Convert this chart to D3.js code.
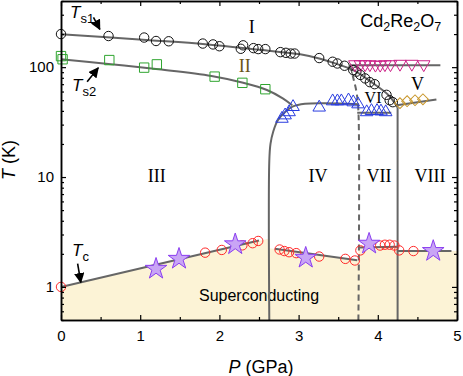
<!DOCTYPE html>
<html>
<head>
<meta charset="utf-8">
<script src="https://cdn.jsdelivr.net/npm/d3@7"></script>
<style>
body { margin: 0; background: #fff; }
svg { display: block; font-family: "Liberation Sans", Arial, sans-serif; }
</style>
</head>
<body>
<svg id="chart" width="463" height="376"></svg>
<script>
// ---- Data (P in GPa, T in K) ----
var xTicks = [0, 1, 2, 3, 4, 5];
var xMinorTicks = [0.5, 1.5, 2.5, 3.5, 4.5];
var yTicks = [1, 10, 100];
var yMinorTicks = [0.5, 0.6, 0.7, 0.8, 0.9, 2, 3, 4, 5, 6, 7, 8, 9, 20, 30, 40, 50, 60, 70, 80, 90, 200, 300, 400];

// Ts1 (black circles)
var ts1Points = [[0, 200], [0.6, 192], [1.05, 186], [1.2, 173], [1.36, 172], [1.79, 164], [1.92, 161], [2.0, 155],
	[2.27, 147], [2.3, 158], [2.43, 149], [2.49, 146], [2.58, 146], [2.77, 137], [2.84, 135], [2.9, 133], [2.95, 133],
	[3.26, 121], [3.43, 112], [3.49, 108], [3.58, 103], [3.69, 94], [3.73, 91], [3.78, 85], [3.84, 79], [3.9, 73],
	[3.96, 70], [4.11, 56], [4.15, 50], [4.19, 48]];
// Ts2 (green squares)
var ts2Points = [[0, 126], [0.02, 118], [0.61, 116], [1.05, 99], [1.21, 106], [1.94, 82], [2.29, 72], [2.58, 63]];
// phase IV / VI (blue up triangles)
var blueTriangles = [[2.79, 34], [2.83, 36.5], [2.88, 39], [2.93, 43.5], [3.26, 43], [3.43, 49], [3.49, 49], [3.54, 49],
	[3.63, 50], [3.69, 48], [3.75, 46], [3.86, 39], [3.92, 40], [3.99, 40], [4.04, 39.6], [4.1, 39]];
// phase V top (magenta down triangles)
var magentaTriangles = [[3.71, 106], [3.78, 106], [3.84, 106], [3.9, 106], [3.97, 105], [4.03, 105], [4.09, 106],
	[4.16, 106], [4.28, 107], [4.43, 107], [4.58, 106]];
// phase V bottom (orange diamonds)
var diamonds = [[4.28, 47], [4.37, 49], [4.47, 50], [4.57, 51]];
// Tc (red circles, purple stars)
var tcCircles = [[0, 1.0], [1.82, 2.05], [2.03, 2.17], [2.29, 2.39], [2.42, 2.5], [2.49, 2.62], [2.76, 2.19], [2.82, 2.12],
	[2.88, 2.07], [2.97, 2.03], [3.26, 1.89], [3.59, 1.8], [3.71, 1.74], [3.78, 2.15], [4.03, 2.38], [4.09, 2.42],
	[4.15, 2.42], [4.21, 2.38], [4.27, 2.15], [4.45, 2.12]];
var tcStars = [[1.2, 1.46], [1.49, 1.8], [2.2, 2.44], [3.09, 1.84], [3.89, 2.47], [4.7, 2.12]];

// Guide lines through the data
var ts1Line = [[0, 199], [1.12, 176], [1.82, 162], [2.5, 144], [3.02, 131], [3.26, 120], [3.43, 110], [3.69, 94],
	[3.92, 73], [4.13, 56], [4.25, 43]];
var ts2Line = [[0, 118], [0.6, 107], [1.2, 96], [1.9, 83], [2.3, 72], [2.6, 62], [2.8, 52], [2.92, 45]];
var ivLine = [[2.63, 0.5], [2.63, 14], [2.645, 20], [2.68, 26], [2.74, 33], [2.83, 39], [2.93, 44], [3.08, 46.5],
	[3.33, 47], [3.76, 46]];
var viLine = [[3.74, 38.5], [4.17, 38.5]];
var vTopLine = [[3.65, 104], [4.79, 104]];
var vBottomLine = [[4.24, 45], [4.74, 50.7]];
var viiLine = [[4.25, 43], [4.25, 0.5]];
var dashedLine = [[3.65, 104], [3.69, 80], [3.73, 60], [3.755, 40], [3.755, 0.5]];
var tcLines = [
	[[0, 1.0], [2.5, 2.65]],
	[[2.7, 2.22], [3.74, 1.75]],
	[[3.76, 2.28], [4.25, 2.32]],
	[[4.25, 2.12], [4.93, 2.12]]
];
var scArea = [[0, 1.0], [2.63, 2.76], [2.63, 2.25], [3.755, 1.75], [3.755, 2.28], [4.25, 2.32], [4.25, 2.12], [5, 2.12]];

// Region labels [P, T, text]
var phaseLabels = [[2.41, 204, "I"], [2.32, 90.6, "II"], [1.21, 8.96, "III"], [3.245, 8.96, "IV"], [4.5, 62.6, "V"],
	[3.94, 47, "VI"], [4.015, 8.96, "VII"], [4.66, 8.96, "VIII"]];

// ---- Layout ----
var svg = d3.select("#chart");
var x = d3.scaleLinear().domain([0, 5]).range([61, 457]);
var y = d3.scaleLog().domain([0.5, 400]).range([320, 1]);

var grayLine = "#666";
var line = d3.line().x(function(d) { return x(d[0]); }).y(function(d) { return y(d[1]); });
var smooth = d3.line().x(function(d) { return x(d[0]); }).y(function(d) { return y(d[1]); })
	.curve(d3.curveCatmullRom.alpha(0.5));

// Superconducting area
svg.append("path")
	.attr("d", d3.area().x(function(d) { return x(d[0]); }).y0(y(0.5)).y1(function(d) { return y(d[1]); })(scArea))
	.attr("fill", "#fcf3d6");

svg.append("text").attr("x", x(2.5)).attr("y", y(0.75)).attr("text-anchor", "middle")
	.style("font-size", "16px").text("Superconducting");

// Phase boundary lines
function drawLine(pts, gen, dashed) {
	var p = svg.append("path").attr("d", gen(pts)).attr("fill", "none")
		.attr("stroke", grayLine).attr("stroke-width", 2);
	if (dashed)
		p.attr("stroke-dasharray", "6,4");
	return p;
}
drawLine(ts1Line, smooth);
drawLine(ts2Line, smooth);
drawLine(ivLine, smooth);
drawLine(viLine, line);
drawLine(vTopLine, line);
drawLine(vBottomLine, line);
drawLine(viiLine, line);
drawLine(dashedLine, smooth, true);
tcLines.forEach(function(seg) { drawLine(seg, line); });

// Markers
function drawSymbols(pts, type, size, stroke, fill, rotate) {
	svg.append("g").selectAll("path").data(pts).enter().append("path")
		.attr("d", d3.symbol().type(type).size(size))
		.attr("transform", function(d) {
			return "translate(" + x(d[0]) + "," + y(d[1]) + ")" + (rotate ? " rotate(" + rotate + ")" : "");
		})
		.attr("fill", fill).attr("stroke", stroke).attr("stroke-width", 1);
}
function drawCircles(pts, stroke) {
	svg.append("g").selectAll("circle").data(pts).enter().append("circle")
		.attr("cx", function(d) { return x(d[0]); })
		.attr("cy", function(d) { return y(d[1]); })
		.attr("r", 4.7).attr("fill", "none").attr("stroke", stroke).attr("stroke-width", 1);
}
drawCircles(ts1Points, "#111");
drawSymbols(ts2Points, d3.symbolSquare, 88, "#2fa52f", "none");
drawSymbols(blueTriangles, d3.symbolTriangle, 68, "#2a3de0", "none");
drawSymbols(magentaTriangles, d3.symbolTriangle, 68, "#cc2288", "none", 180);
drawSymbols(diamonds, d3.symbolSquare, 58, "#c8962a", "none", 45);
drawCircles(tcCircles, "#ff2a2a");
drawSymbols(tcStars, d3.symbolStar, 145, "#8a3ef0", "#c9a5f5");

// Region labels
svg.append("g").selectAll("text").data(phaseLabels).enter().append("text")
	.attr("x", function(d) { return x(d[0]); })
	.attr("y", function(d) { return y(d[1]); })
	.attr("text-anchor", "middle")
	.style("font-family", "'Liberation Serif', 'Times New Roman', serif")
	.style("font-size", function(d) { return d[2] == "VI" ? "16px" : "18px"; })
	.style("fill", function(d) { return d[2] == "II" ? "#6a5418" : "#000"; })
	.text(function(d) { return d[2]; });

// Compound name
var cmp = svg.append("text").attr("x", x(4.8)).attr("y", y(233)).attr("text-anchor", "end")
	.style("font-size", "18px");
[["Cd", false], ["2", true], ["Re", false], ["2", true], ["O", false], ["7", true]].forEach(function(p) {
	cmp.append("tspan").text(p[0])
		.attr("dy", p[1] ? 4 : (cmp.selectAll("tspan").size() > 1 ? -4 : 0))
		.style("font-size", p[1] ? "12.5px" : "18px");
});

// T labels with arrows
function tLabel(P, T, sub) {
	var t = svg.append("text").attr("x", x(P)).attr("y", y(T)).style("font-size", "17px");
	t.append("tspan").text("T").style("font-style", "italic");
	t.append("tspan").text(sub).attr("dy", 5).style("font-size", "13px");
}
tLabel(0.114, 280, "s1");
tLabel(0.139, 60.4, "s2");
tLabel(0.139, 1.93, "c");

svg.append("defs").append("marker").attr("id", "head")
	.attr("viewBox", "0 0 10 10").attr("refX", 9).attr("refY", 5)
	.attr("markerWidth", 6.5).attr("markerHeight", 6.5).attr("orient", "auto")
	.append("path").attr("d", "M0,0L10,5L0,10Z").attr("fill", "#000");
function arrow(p1, p2) {
	svg.append("line")
		.attr("x1", x(p1[0])).attr("y1", y(p1[1]))
		.attr("x2", x(p2[0])).attr("y2", y(p2[1]))
		.attr("stroke", "#000").attr("stroke-width", 1.6).attr("marker-end", "url(#head)");
}
arrow([0.41, 284], [0.49, 221]);
arrow([0.33, 73.5], [0.47, 98.5]);
arrow([0.21, 1.63], [0.25, 1.1]);

// ---- Axes (ticks point inward) ----
function styleAxis(g) {
	g.select(".domain").attr("stroke-width", 1.5);
	g.selectAll(".tick line").attr("stroke-width", 1.2);
	g.selectAll("text").style("font-size", "15px").style("font-family", "'Liberation Sans', Arial, sans-serif")
		.attr("fill", "#000");
}
svg.append("g").attr("transform", "translate(0," + y(0.5) + ")")
	.call(d3.axisBottom(x).tickValues(xMinorTicks).tickFormat("").tickSizeInner(-3).tickSizeOuter(0)).call(styleAxis);
svg.append("g").attr("transform", "translate(0," + y(0.5) + ")")
	.call(d3.axisBottom(x).tickValues(xTicks).tickFormat(d3.format("d")).tickSizeInner(-5).tickSizeOuter(0).tickPadding(10))
	.call(styleAxis);
svg.append("g").attr("transform", "translate(0," + y(400) + ")")
	.call(d3.axisTop(x).tickValues(xMinorTicks).tickFormat("").tickSizeInner(-3).tickSizeOuter(0)).call(styleAxis);
svg.append("g").attr("transform", "translate(0," + y(400) + ")")
	.call(d3.axisTop(x).tickValues(xTicks).tickFormat("").tickSizeInner(-5).tickSizeOuter(0)).call(styleAxis);

svg.append("g").attr("transform", "translate(" + x(0) + ",0)")
	.call(d3.axisLeft(y).tickValues(yMinorTicks).tickFormat("").tickSizeInner(-3).tickSizeOuter(0)).call(styleAxis);
svg.append("g").attr("transform", "translate(" + x(0) + ",0)")
	.call(d3.axisLeft(y).tickValues(yTicks).tickFormat(d3.format("d")).tickSizeInner(-5).tickSizeOuter(0).tickPadding(7))
	.call(styleAxis);
svg.append("g").attr("transform", "translate(" + x(5) + ",0)")
	.call(d3.axisRight(y).tickValues(yMinorTicks).tickFormat("").tickSizeInner(-3).tickSizeOuter(0)).call(styleAxis);
svg.append("g").attr("transform", "translate(" + x(5) + ",0)")
	.call(d3.axisRight(y).tickValues(yTicks).tickFormat("").tickSizeInner(-5).tickSizeOuter(0)).call(styleAxis);

// Axis titles
var xt = svg.append("text").attr("x", 261).attr("y", 373).attr("text-anchor", "middle").style("font-size", "18px");
xt.append("tspan").text("P").style("font-style", "italic");
xt.append("tspan").text(" (GPa)");
var yt = svg.append("text").attr("transform", "translate(15,160) rotate(-90)").attr("text-anchor", "middle")
	.style("font-size", "18px");
yt.append("tspan").text("T").style("font-style", "italic");
yt.append("tspan").text(" (K)");
</script>
</body>
</html>
